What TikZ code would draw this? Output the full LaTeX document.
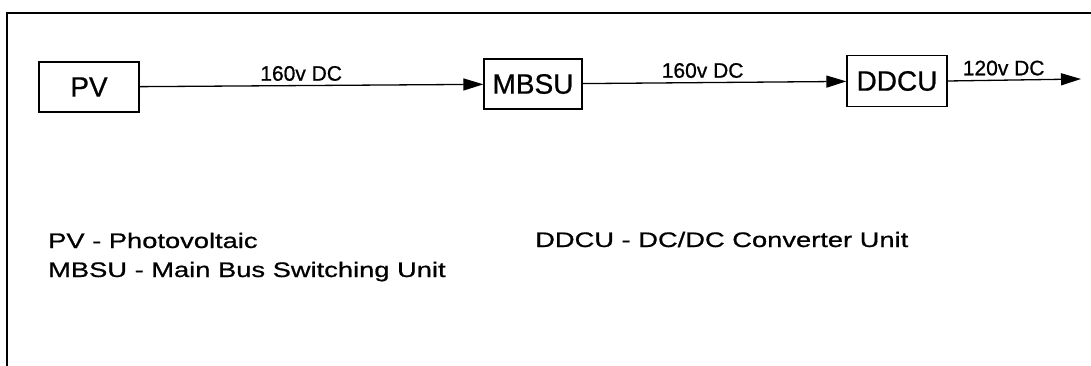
\documentclass[tikz,border=0pt]{standalone}
\usepackage{fontspec}
\setmainfont[FakeBold=0.8]{Liberation Sans}
\newfontfamily\legfont[FakeStretch=1.3,FakeBold=0.8]{Liberation Sans}
\usepackage{tikz}
\usetikzlibrary{arrows.meta,positioning}

\begin{document}
\begin{tikzpicture}[x=1pt,y=-1pt,
    unit/.style={draw,line width=1.3pt,minimum width=100pt,minimum height=50pt,inner sep=0pt,
      font=\fontsize{28}{32}\selectfont},
    flow/.style={line width=1.3pt,-{Triangle[length=20pt,width=12pt]}},
    volt/.style={font=\fontsize{21}{24}\selectfont,inner sep=1pt,above=3pt},
    legend/.style={anchor=base west,inner sep=0pt,font=\legfont\fontsize{21}{24}\selectfont}]
  \useasboundingbox (0,0) rectangle (1091,366);
  % frame, cut at right and bottom
  \draw[line width=1.8pt] (7,366) -- (7,13) -- (1091,13);
  \node[unit] (pv) at (89,87) {PV};
  \node[unit,minimum width=98pt] (mbsu) at (533,84) {MBSU};
  \node[unit,minimum height=51pt] (ddcu) at (897,81) {DDCU};
  \coordinate (out) at (1081,79);
  \draw[flow] (pv) -- node[volt,pos=0.47] {160v DC} (mbsu);
  \draw[flow] (mbsu) -- node[volt,pos=0.455] {160v DC} (ddcu);
  \draw[flow] (ddcu.east) -- node[volt,pos=0.42] {120v DC} (out);
  % legend
  \node[legend] (lpv) at (48,248) {PV - Photovoltaic};
  \node[legend] (lmbsu) at (48,277) {MBSU - Main Bus Switching Unit};
  \node[legend] (lddcu) at (535,247) {DDCU - DC/DC Converter Unit};
\end{tikzpicture}
\end{document}
